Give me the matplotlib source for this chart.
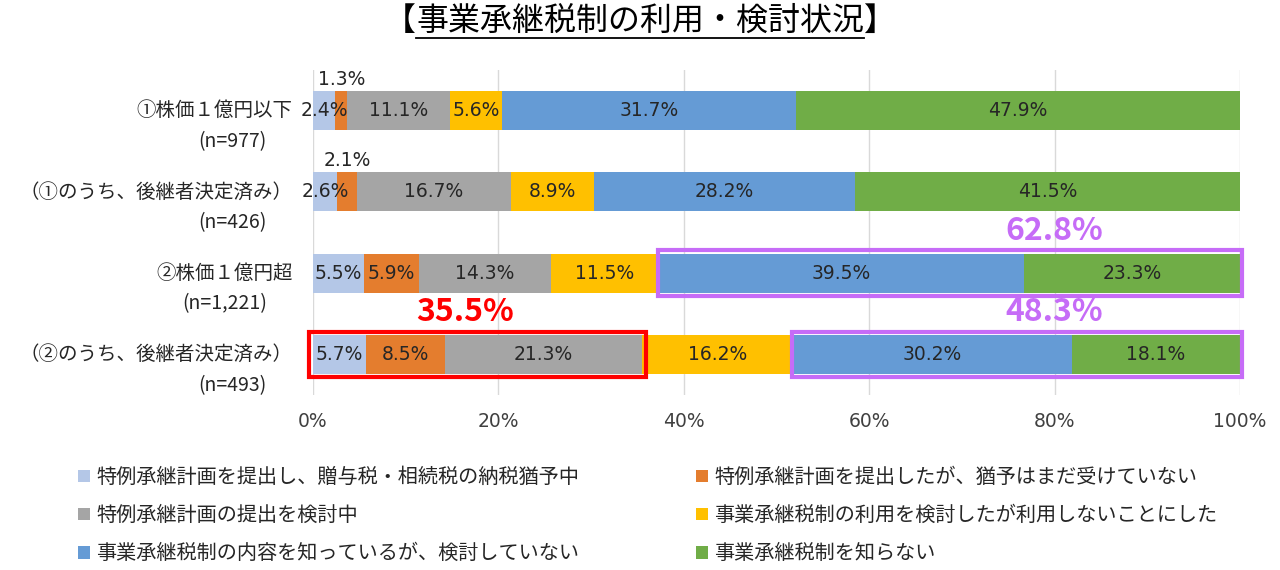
import numpy as np
import matplotlib.pyplot as plt
from matplotlib.patches import Rectangle, Patch
from matplotlib.lines import Line2D

plt.rcParams['font.family'] = ['Noto Sans CJK JP', 'DejaVu Sans']
NUM = ['DejaVu Sans']

# data
groups = ['①株価１億円以下', '（①のうち、後継者決定済み）', '②株価１億円超', '（②のうち、後継者決定済み）']
counts = ['(n=977)', '(n=426)', '(n=1,221)', '(n=493)']
series = ['特例承継計画を提出し、贈与税・相続税の納税猶予中',
          '特例承継計画を提出したが、猶予はまだ受けていない',
          '特例承継計画の提出を検討中',
          '事業承継税制の利用を検討したが利用しないことにした',
          '事業承継税制の内容を知っているが、検討していない',
          '事業承継税制を知らない']
values = np.array([
    [2.4, 1.3, 11.1, 5.6, 31.7, 47.9],
    [2.6, 2.1, 16.7, 8.9, 28.2, 41.5],
    [5.5, 5.9, 14.3, 11.5, 39.5, 23.3],
    [5.7, 8.5, 21.3, 16.2, 30.2, 18.1],
])
colors = ['#B4C7E7', '#E47D2E', '#A5A5A5', '#FFC000', '#659BD5', '#70AD47']
xticks = [0, 20, 40, 60, 80, 100]

# highlighted sums
red_total = '35.5%'
purple_totals = ['62.8%', '48.3%']

fig = plt.figure(figsize=(12.8, 5.7), dpi=100)
ax = fig.add_axes([313 / 1280, 1 - 395 / 570, 927 / 1280, 325 / 570])

y = np.arange(len(groups))
bh = 0.48
left = np.zeros(len(groups))
for j, name in enumerate(series):
    ax.barh(y, values[:, j], left=left, height=bh, color=colors[j], label=name, zorder=2)
    for i in range(len(groups)):
        v = values[i, j]
        cx = left[i] + v / 2
        if v < 2.2 and j == 1:
            ax.text(cx, y[i] - bh / 2 - 0.03, f'{v:.1f}%', ha='center', va='bottom',
                    fontsize=13.5, family=NUM, color='#262626', zorder=4)
        else:
            ax.text(cx, y[i], f'{v:.1f}%', ha='center', va='center',
                    fontsize=13.5, family=NUM, color='#262626', zorder=4)
    left += values[:, j]

ax.set_xlim(0, 100)
ax.set_ylim(3.5, -0.5)
ax.set_xticks(xticks)
ax.set_xticklabels([f'{t}%' for t in xticks], fontsize=13.5, family=NUM, color='#404040')
ax.set_yticks([])
ax.tick_params(axis='x', length=0, pad=12)
for s in ax.spines.values():
    s.set_visible(False)
ax.grid(axis='x', color='#D9D9D9', linewidth=1, zorder=0)
ax.set_axisbelow(True)

# category labels (two lines)
for i in range(len(groups)):
    ax.text(-0.022, y[i], groups[i], transform=ax.get_yaxis_transform(),
            ha='right', va='center', fontsize=14, color='#262626')
    ax.text(-0.05, y[i] + 0.38, counts[i], transform=ax.get_yaxis_transform(),
            ha='right', va='center', fontsize=14, color='#262626')

# highlight boxes
cum = np.cumsum(values, axis=1)
red = Rectangle((-0.4, 3 - 0.28), cum[3, 2] + 0.8, 0.56, fill=False,
                edgecolor='#FF0000', linewidth=3, clip_on=False, zorder=5)
ax.add_patch(red)
for k, row in enumerate([2, 3]):
    x0 = cum[row, 3]
    ax.add_patch(Rectangle((x0, row - 0.28), 100.2 - x0, 0.56, fill=False,
                           edgecolor='#C66CF7', linewidth=3, clip_on=False, zorder=5))
    ax.text(80, row - 0.52, purple_totals[k], ha='center', va='center',
            fontsize=23, fontweight='bold', color='#C66CF7', zorder=6)
ax.text(16.4, 3 - 0.52, red_total, ha='center', va='center',
        fontsize=23, fontweight='bold', color='#FF0000', zorder=6)

# legend
order = [0, 2, 4, 1, 3, 5]
handles = [Patch(facecolor=colors[k], edgecolor='none') for k in order]
labels = [series[k] for k in order]
fig.legend(handles, labels, ncol=2, loc='upper left', bbox_to_anchor=(70 / 1280, 1 - 459 / 570),
           frameon=False, fontsize=14.5, handlelength=0.6, handleheight=0.6,
           handletextpad=0.3, columnspacing=5.8, labelspacing=0.85, borderaxespad=0,
           labelcolor='#262626')

# title with underline between brackets
fig.canvas.draw()
r = fig.canvas.get_renderer()
ty = 1 - 21 / 570
t = fig.text(0.5, ty, '事業承継税制の利用・検討状況', ha='center', va='center',
             fontsize=23, color='#000000')
bb = t.get_window_extent(r).transformed(fig.transFigure.inverted())
fig.text(bb.x0, ty, '【', ha='right', va='center', fontsize=23)
fig.text(bb.x1, ty, '】', ha='left', va='center', fontsize=23)
fig.add_artist(Line2D([bb.x0, bb.x1], [bb.y0 - 0.002, bb.y0 - 0.002],
                      transform=fig.transFigure, color='black', linewidth=1.3))

fig.savefig('out.png', dpi=100)
